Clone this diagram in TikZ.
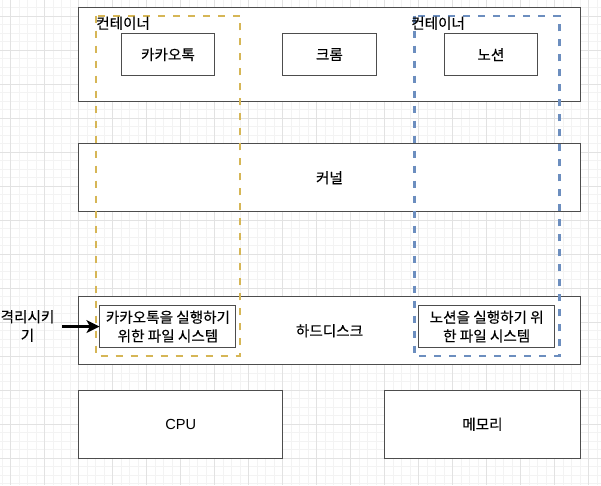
\documentclass[tikz,border=0pt]{standalone}
\usepackage{fontspec}
\setmainfont{Liberation Sans}
\newfontfamily\kr[FakeBold=0.3]{Noto Sans CJK KR}
\usetikzlibrary{arrows.meta}
\definecolor{ylw}{HTML}{D6B656}
\definecolor{blu}{HTML}{6C8EBF}
\definecolor{gmaj}{HTML}{E2E2E2}
\definecolor{gmin}{HTML}{F3F3F3}
\definecolor{edgec}{HTML}{4D4D4D}
\begin{document}
\begin{tikzpicture}[x=1pt,y=-1pt,
  box/.style={draw=edgec, line width=1pt, fill=white, inner sep=0pt, align=center,
    font=\kr\fontsize{14.6}{18.7}\selectfont},
  lbl/.style={inner sep=0pt, align=center, font=\kr\fontsize{14.6}{18.7}\selectfont},
  cont/.style={line width=2.4pt, dash pattern=on 7pt off 8pt},
  arr/.style={line width=2.2pt, -{Stealth[length=13pt,width=13pt,inset=3.5pt]}}]
\useasboundingbox (0,0) rectangle (601,485);
\fill[white] (0,0) rectangle (601,485);
\begin{scope}
\clip (0,0) rectangle (601,485);
\foreach \i in {0,...,70} {\draw[gmin, line width=1pt] ({2.2+8.5*\i},0) -- ({2.2+8.5*\i},485);}
\foreach \j in {0,...,56} {\draw[gmin, line width=1pt] (0,{7.8+8.5*\j}) -- (601,{7.8+8.5*\j});}
\foreach \i in {0,...,17} {\draw[gmaj, line width=1pt] ({10.7+34*\i},0) -- ({10.7+34*\i},485);}
\foreach \j in {0,...,14} {\draw[gmaj, line width=1pt] (0,{16.3+34*\j}) -- (601,{16.3+34*\j});}
\end{scope}
% top row
\node[box, minimum width=501.5pt, minimum height=93.5pt] (apps) at (329.45,54.55) {};
\node[box, minimum width=93.5pt, minimum height=42.5pt] (kakao) at (167.95,54.55) {카카오톡};
\node[box, minimum width=93.5pt, minimum height=42.5pt] (chrome) at (329.45,54.55) {크롬};
\node[box, minimum width=93.5pt, minimum height=42.5pt] (notion) at (490.95,54.55) {노션};
% kernel
\node[box, minimum width=501.5pt, minimum height=68pt] (kernel) at (329.45,177.8) {커널};
% hard disk
\node[box, minimum width=501.5pt, minimum height=68pt] (hdd) at (329.45,330.8) {하드디스크};
\node[box, minimum width=136pt, minimum height=42.5pt] (fs1) at (167.95,326.55) {카카오톡을 실행하기\\위한 파일 시스템};
\node[box, minimum width=136pt, minimum height=42.5pt] (fs2) at (486.7,326.55) {노션을 실행하기 위\\한 파일 시스템};
% cpu / memory
\node[box, minimum width=204pt, minimum height=68pt, font=\rmfamily\fontsize{14.6}{18.7}\selectfont] (cpu) at (180.7,424.3) {CPU};
\node[box, minimum width=195.5pt, minimum height=68pt] (mem) at (482.45,424.3) {메모리};
% containers
\draw[cont, ylw] (96,15.7) rectangle (240,356);
\draw[cont, blu] (414.3,15.7) rectangle (559.3,356);
\node[lbl, anchor=west] (c1) at (96,23.3) {컨테이너};
\node[lbl, anchor=west] (c2) at (411,23.3) {컨테이너};
% isolation
\node[lbl] (iso) at (27.5,326) {격리시키\\기};
\coordinate (as) at (62,326.55);
\draw[arr] (as) -- (fs1.west);
\end{tikzpicture}
\end{document}
